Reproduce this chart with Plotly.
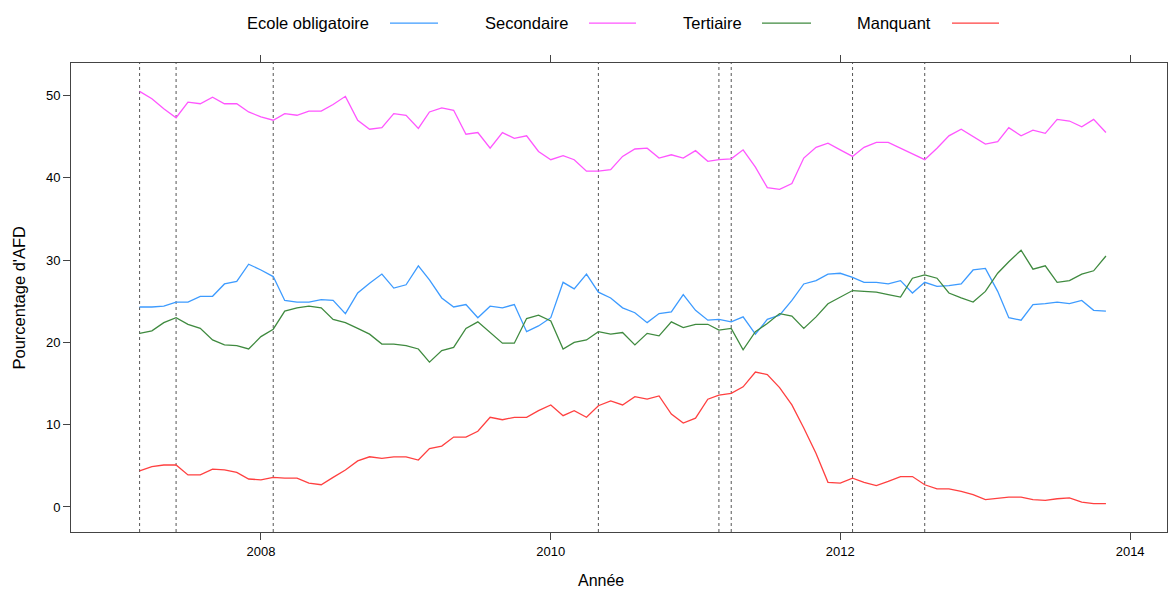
import plotly.graph_objects as go
import pandas as pd

# monthly shares (%), March 2007 -> November 2013
months = pd.date_range("2007-03-01", "2013-11-01", freq="MS")

ecole = [24.3, 24.3, 24.4, 24.9, 24.9, 25.6, 25.6, 27.1, 27.4, 29.5, 28.8, 28.0, 25.1, 24.9, 24.9, 25.2, 25.1, 23.5, 26.0, 27.2, 28.3,
         26.6, 27.0, 29.3, 27.6, 25.4, 24.3, 24.6, 23.0, 24.4, 24.2, 24.6, 21.3, 22.0, 23.0, 27.3, 26.5, 28.3, 26.1, 25.4, 24.2, 23.6,
         22.4, 23.5, 23.7, 25.8, 23.9, 22.7, 22.8, 22.5, 23.1, 21.0, 22.8, 23.3, 25.1, 27.1, 27.5, 28.3, 28.4, 27.9, 27.3, 27.3, 27.1,
         27.5, 26.0, 27.3, 26.8, 26.9, 27.1, 28.8, 29.0, 26.2, 23.0, 22.7, 24.6, 24.7, 24.9, 24.7, 25.1, 23.9, 23.8]

secondaire = [50.5, 49.6, 48.4, 47.3, 49.2, 49.0, 49.8, 49.0, 49.0, 48.0, 47.4, 47.0, 47.8, 47.6, 48.1, 48.1, 48.9, 49.9, 47.0, 45.9, 46.1,
              47.8, 47.6, 46.0, 48.0, 48.5, 48.2, 45.3, 45.5, 43.6, 45.5, 44.8, 45.1, 43.2, 42.2, 42.7, 42.2, 40.8, 40.8, 41.0, 42.6, 43.5,
              43.6, 42.4, 42.8, 42.4, 43.3, 42.0, 42.2, 42.3, 43.4, 41.3, 38.8, 38.6, 39.3, 42.4, 43.7, 44.2, 43.4, 42.6, 43.7, 44.3, 44.3,
              43.6, 42.9, 42.2, 43.6, 45.1, 45.9, 45.0, 44.1, 44.4, 46.1, 45.1, 45.8, 45.4, 47.1, 46.9, 46.2, 47.1, 45.5]

tertiaire = [21.1, 21.4, 22.4, 23.0, 22.2, 21.7, 20.3, 19.7, 19.6, 19.2, 20.7, 21.6, 23.8, 24.2, 24.4, 24.2, 22.8, 22.4, 21.7, 21.0, 19.8,
             19.8, 19.6, 19.2, 17.6, 19.0, 19.4, 21.7, 22.5, 21.2, 19.9, 19.9, 22.9, 23.3, 22.6, 19.2, 20.0, 20.3, 21.3, 21.0, 21.2, 19.7,
             21.1, 20.8, 22.5, 21.8, 22.2, 22.2, 21.5, 21.7, 19.1, 21.3, 22.3, 23.5, 23.2, 21.7, 23.1, 24.7, 25.5, 26.3, 26.2, 26.1, 25.8,
             25.5, 27.8, 28.2, 27.8, 26.0, 25.4, 24.9, 26.2, 28.4, 29.8, 31.2, 28.9, 29.3, 27.3, 27.5, 28.3, 28.7, 30.5]

manquant = [4.4, 4.9, 5.1, 5.1, 3.9, 3.9, 4.6, 4.5, 4.2, 3.4, 3.3, 3.6, 3.5, 3.5, 2.9, 2.7, 3.6, 4.5, 5.6, 6.1, 5.9,
            6.1, 6.1, 5.7, 7.1, 7.4, 8.5, 8.5, 9.2, 10.9, 10.6, 10.9, 10.9, 11.7, 12.4, 11.1, 11.7, 10.9, 12.3, 12.9, 12.4, 13.4,
            13.1, 13.5, 11.3, 10.2, 10.8, 13.1, 13.6, 13.8, 14.6, 16.4, 16.1, 14.5, 12.4, 9.6, 6.5, 3.0, 2.9, 3.5, 3.0, 2.6, 3.1,
            3.7, 3.7, 2.7, 2.2, 2.2, 1.9, 1.5, 0.9, 1.1, 1.2, 1.2, 0.9, 0.8, 1.0, 1.1, 0.6, 0.4, 0.4]

# dates marked with vertical dotted lines
event_dates = ["2007-03-01", "2007-06-01", "2008-02-01", "2010-05-01",
               "2011-03-01", "2011-04-01", "2012-02-01", "2012-08-01"]

series_names = ["Ecole obligatoire", "Secondaire", "Tertiaire", "Manquant"]
series_values = [ecole, secondaire, tertiaire, manquant]
series_colors = ["#3d9bff", "#ff55ff", "#3f8a3f", "#ff4040"]

year_ticks = ["2008-01-01", "2010-01-01", "2012-01-01", "2014-01-01"]
year_labels = ["2008", "2010", "2012", "2014"]

FONT = "Liberation Sans, Arial, Helvetica, sans-serif"

fig = go.Figure()

for name, vals, col in zip(series_names, series_values, series_colors):
    fig.add_trace(go.Scatter(
        x=months, y=vals, mode="lines", name=name,
        line=dict(color=col, width=1.3),
        showlegend=False
    ))

shapes = []
for d in event_dates:
    shapes.append(dict(
        type="line", xref="x", yref="paper", x0=d, x1=d, y0=0, y1=1,
        line=dict(color="#555555", width=1, dash="dot"), layer="below"
    ))

# lattice style key above the panel: text, then line sample
annotations = []
key_text_x = [371, 570, 744, 933]
key_line_x = [(390, 438), (589, 636), (762, 811), (952, 999)]
plot_l, plot_w = 71, 1096
key_y = 1.085
for name, col, tx, (lx0, lx1) in zip(series_names, series_colors, key_text_x, key_line_x):
    annotations.append(dict(
        text=name, xref="paper", yref="paper",
        x=(tx - plot_l) / plot_w, y=key_y, xanchor="right", yanchor="middle",
        showarrow=False, font=dict(family=FONT, size=16.5, color="#000000")
    ))
    shapes.append(dict(
        type="line", xref="paper", yref="paper",
        x0=(lx0 - plot_l) / plot_w, x1=(lx1 - plot_l) / plot_w, y0=key_y, y1=key_y,
        line=dict(color=col, width=1.3)
    ))

annotations.append(dict(
    text="Année", xref="paper", yref="paper",
    x=(601 - plot_l) / plot_w, y=-0.103, xanchor="center", yanchor="middle",
    showarrow=False, font=dict(family=FONT, size=16, color="#000000")
))
annotations.append(dict(
    text="Pourcentage d'AFD", xref="paper", yref="paper",
    x=(18 - plot_l) / plot_w, y=0.5, xanchor="center", yanchor="middle", textangle=-90,
    showarrow=False, font=dict(family=FONT, size=16.5, color="#000000")
))

fig.update_layout(
    width=1168, height=590,
    margin=dict(l=71, r=1, t=63, b=58),
    paper_bgcolor="white", plot_bgcolor="white",
    font=dict(family=FONT, size=13, color="#000000"),
    shapes=shapes, annotations=annotations,
    xaxis=dict(
        type="date", range=["2006-09-09", "2014-04-04"],
        tickvals=year_ticks, ticktext=year_labels,
        showgrid=False, zeroline=False,
        showline=True, linecolor="#444444", linewidth=1, mirror="ticks",
        ticks="outside", ticklen=7, tickcolor="#444444",
        tickfont=dict(size=13)
    ),
    yaxis=dict(
        range=[-3.04, 53.95], tickvals=[0, 10, 20, 30, 40, 50],
        showgrid=False, zeroline=False,
        showline=True, linecolor="#444444", linewidth=1, mirror=True,
        ticks="outside", ticklen=7, tickcolor="#444444",
        tickfont=dict(size=13)
    ),
    hovermode="x"
)

fig.write_html("out.html", config={"displayModeBar": False},
               post_script="document.body.style.margin='0';")
